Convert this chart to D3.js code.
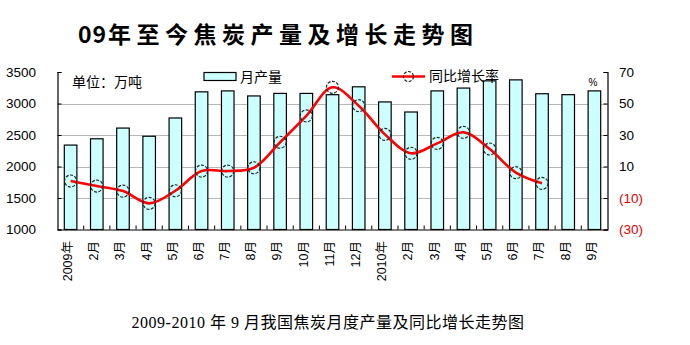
<!DOCTYPE html>
<html>
<head>
<meta charset="utf-8">
<script src="https://cdn.jsdelivr.net/npm/d3@7/dist/d3.min.js"></script>
<style>
  html, body { margin: 0; padding: 0; background: #fff; }
  svg { display: block; }
</style>
</head>
<body>
<script>
// Monthly coke output (10k tonnes) and year-on-year growth (%), Jan 2009 – Sep 2010
const categories = ["2009年","2月","3月","4月","5月","6月","7月","8月","9月","10月","11月","12月",
                    "2010年","2月","3月","4月","5月","6月","7月","8月","9月"];
const output = [2340, 2440, 2610, 2480, 2770, 3185, 3200, 3120, 3160, 3160, 3140, 3265,
                3025, 2865, 3200, 3245, 3360, 3375, 3155, 3140, 3200];
const growth = [0.8, -2.4, -5.6, -13.4, -5.4, 7.1, 7.1, 9.2, 25.4, 42.1, 60.3, 48.6,
                30.4, 18.4, 24.7, 31.7, 21.1, 6.1, -0.7];
const leftTicks = [1000, 1500, 2000, 2500, 3000, 3500];
const rightTicks = [-30, -10, 10, 30, 50, 70];
const gridTicks = [1500, 2000, 2500, 3000];

const W = 690, H = 345;
const plotLeft = 57.5, plotRight = 607.5, plotTop = 72, plotBottom = 229.5;

const svg = d3.select("body").append("svg")
  .attr("width", W).attr("height", H);

const x = d3.scaleBand().domain(d3.range(categories.length)).range([plotLeft, plotRight]).padding(0);
const yL = d3.scaleLinear().domain([1000, 3500]).range([plotBottom, plotTop]);
const yR = d3.scaleLinear().domain([-30, 70]).range([plotBottom, plotTop]);

const sans = "'Liberation Sans', Arial, 'Noto Sans CJK SC', sans-serif";
const cjk = "'Noto Sans CJK SC', 'Liberation Sans', sans-serif";

// title
const title = svg.append("text")
  .attr("y", 43)
  .attr("font-family", cjk)
  .attr("font-size", 23)
  .attr("font-weight", 600)
  .attr("fill", "#000");
title.append("tspan").attr("x", 78).attr("letter-spacing", 1).text("09");
title.append("tspan").attr("x", 108).attr("letter-spacing", 5.5).text("年至今焦炭产量及增长走势图");

// gridlines
svg.append("g").selectAll("line").data(gridTicks).join("line")
  .attr("x1", plotLeft).attr("x2", plotRight)
  .attr("y1", d => Math.round(yL(d)) + 0.5).attr("y2", d => Math.round(yL(d)) + 0.5)
  .attr("stroke", "#b8b8b8").attr("stroke-width", 1);

// bars
const bw = x.bandwidth() * 0.48;
svg.append("g").selectAll("rect").data(output).join("rect")
  .attr("x", (d, i) => x(i) + (x.bandwidth() - bw) / 2)
  .attr("y", d => yL(d))
  .attr("width", bw)
  .attr("height", d => plotBottom - yL(d))
  .attr("fill", "#ccffff")
  .attr("stroke", "#000")
  .attr("stroke-width", 1.2);

// axes
const axL = svg.append("g").attr("transform", `translate(${plotLeft},0)`)
  .call(d3.axisRight(yL).tickValues(leftTicks).tickSize(4).tickFormat(""));
const axR = svg.append("g").attr("transform", `translate(${plotRight},0)`)
  .call(d3.axisLeft(yR).tickValues(rightTicks).tickSize(4).tickFormat(""));
const axB = svg.append("g").attr("transform", `translate(0,${plotBottom})`)
  .call(d3.axisTop(x).tickValues([]).tickSizeOuter(0));
[axL, axR, axB].forEach(g => {
  g.select(".domain").attr("stroke", "#000").attr("stroke-width", 1.2);
  g.selectAll(".tick line").attr("stroke", "#000");
});
// category separator ticks on the bottom axis
svg.append("g").selectAll("line").data(d3.range(1, categories.length)).join("line")
  .attr("x1", i => x(i)).attr("x2", i => x(i))
  .attr("y1", plotBottom).attr("y2", plotBottom - 4)
  .attr("stroke", "#000").attr("stroke-width", 1);

// left tick labels
svg.append("g").selectAll("text").data(leftTicks).join("text")
  .attr("x", 36).attr("y", d => yL(d))
  .attr("dy", "0.35em")
  .attr("text-anchor", "end")
  .attr("font-family", sans).attr("font-size", 13.5)
  .attr("fill", "#000")
  .text(d => d);

// right tick labels, negatives in parentheses and red
svg.append("g").selectAll("text").data(rightTicks).join("text")
  .attr("x", 619).attr("y", d => yR(d))
  .attr("dy", "0.35em")
  .attr("font-family", sans).attr("font-size", 13.5)
  .attr("fill", d => d < 0 ? "#e00000" : "#000")
  .text(d => d < 0 ? `(${Math.abs(d)})` : d);

// category labels, rotated
svg.append("g").selectAll("text").data(categories).join("text")
  .attr("transform", (d, i) => `translate(${x(i) + x.bandwidth() / 2 - 3},241) rotate(-90)`)
  .attr("text-anchor", "end")
  .attr("dy", "0.35em")
  .attr("font-family", sans).attr("font-size", 12.5)
  .attr("fill", "#000")
  .text(d => d);

// growth line
const line = d3.line()
  .x((d, i) => x(i) + x.bandwidth() / 2)
  .y(d => yR(d))
  .curve(d3.curveCatmullRom.alpha(0.5));
svg.append("path").datum(growth)
  .attr("d", line)
  .attr("fill", "none")
  .attr("stroke", "#ff0000")
  .attr("stroke-width", 2.6)
  .attr("stroke-linejoin", "round");

svg.append("g").selectAll("circle").data(growth).join("circle")
  .attr("cx", (d, i) => x(i) + x.bandwidth() / 2)
  .attr("cy", d => yR(d))
  .attr("r", 6)
  .attr("fill", "none")
  .attr("stroke", "#1c2a2a")
  .attr("stroke-width", 1.2)
  .attr("stroke-dasharray", "3,1.5");

// unit note
svg.append("text")
  .attr("x", 72).attr("y", 82).attr("dy", "0.35em")
  .attr("font-family", cjk).attr("font-size", 14)
  .attr("fill", "#000")
  .text("单位：万吨");

// legend: bars
svg.append("rect")
  .attr("x", 204).attr("y", 72.5).attr("width", 32).attr("height", 8)
  .attr("fill", "#ccffff").attr("stroke", "#000").attr("stroke-width", 1.2);
svg.append("text")
  .attr("x", 240).attr("y", 77).attr("dy", "0.35em")
  .attr("font-family", cjk).attr("font-size", 14)
  .attr("fill", "#000")
  .text("月产量");

// legend: growth line
svg.append("line")
  .attr("x1", 392).attr("x2", 425).attr("y1", 76.5).attr("y2", 76.5)
  .attr("stroke", "#ff0000").attr("stroke-width", 2.6);
svg.append("circle")
  .attr("cx", 408.5).attr("cy", 76.5).attr("r", 5)
  .attr("fill", "none").attr("stroke", "#1c2a2a").attr("stroke-width", 1.2)
  .attr("stroke-dasharray", "3,1.5");
svg.append("text")
  .attr("x", 429).attr("y", 76).attr("dy", "0.35em")
  .attr("font-family", cjk).attr("font-size", 14)
  .attr("fill", "#000")
  .text("同比增长率");

// percent marker on the right axis
svg.append("text")
  .attr("x", 593).attr("y", 86)
  .attr("text-anchor", "middle")
  .attr("font-family", sans).attr("font-size", 10)
  .attr("fill", "#000")
  .text("%");

// caption
svg.append("text")
  .attr("x", 328).attr("y", 322).attr("dy", "0.35em")
  .attr("text-anchor", "middle")
  .attr("font-family", "'Liberation Serif', 'Noto Sans CJK SC', serif")
  .attr("font-size", 16)
  .attr("letter-spacing", 0.5)
  .attr("fill", "#000")
  .text("2009-2010 年 9 月我国焦炭月度产量及同比增长走势图");
</script>
</body>
</html>
